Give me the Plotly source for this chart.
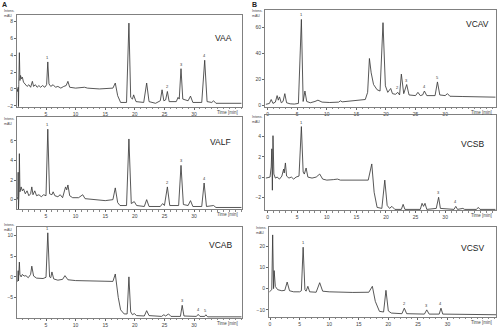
import plotly.graph_objects as go

# ---------------- data (time [min], intensity [mAU]) ----------------
vaa_t = [0.1, 0.2, 0.3, 0.35, 0.4, 0.5, 0.6, 0.7, 0.85, 1.0, 1.2, 1.5, 1.8, 2.1, 2.4, 2.7, 2.9, 3.2, 3.5, 3.8,
         4.1, 4.4, 4.8, 5.1, 5.3, 5.5, 5.8, 6.2, 6.6, 7.0, 7.5, 8.0, 8.4, 8.7, 9.0, 10, 11.5, 12, 14, 16.3,
         16.7, 17.1, 17.6, 18.6, 19.0, 19.3, 19.6, 19.8, 20.2, 21.5, 22.0, 22.4, 23.5, 24.3, 24.6, 24.9, 25.2,
         25.5, 25.8, 27.0, 27.3, 27.5, 27.8, 28.1, 29.0, 29.4, 29.8, 31.3, 31.8, 32.2, 33.0, 33.3, 33.7, 38]
vaa_v = [0.0, -0.3, 0.2, -2.1, 0.5, 4.3, 1.0, 1.6, 1.2, 1.4, 0.8, 0.6, 0.3, 0.5, 0.2, 0.9, 0.3, 0.5, 0.2, 0.4,
         0.2, 0.4, 0.2, 0.5, 3.2, 0.6, 0.3, 0.5, 0.2, 0.3, 0.1, 0.3, 0.4, 0.9, 0.2, 0.1, 0.2, 0.1, 0.0, 0.1,
         0.7, -0.8, -1.6, -1.6, 7.8, -1.0, -1.2, -0.7, -1.5, -1.6, 0.7, -1.5, -1.7, -1.4, -0.1, -1.4, -1.3,
         -0.3, -1.5, -1.5, -1.0, -1.2, 2.4, -1.2, -1.4, -0.85, -1.6, -1.6, 3.4, -1.5, -1.6, -1.4, -1.7, -1.7]
vaa_peaks = [(5.3, 3.2, "1"), (25.5, -0.3, "2"), (27.8, 2.4, "3"), (31.8, 3.4, "4")]

valf_t = [0.1, 0.25, 0.3, 0.35, 0.45, 0.5, 0.6, 0.8, 1.0, 1.2, 1.5, 1.8, 2.1, 2.4, 2.6, 2.8, 3.1, 3.4, 3.8, 4.2,
          4.6, 5.0, 5.3, 5.6, 6.0, 6.2, 6.5, 7.0, 7.4, 7.8, 8.3, 8.5, 8.7, 9.0, 9.5, 10.5, 11.2, 11.6, 13, 15,
          16.3, 16.7, 17.1, 17.5, 18.6, 19.0, 19.4, 19.9, 20.3, 21.6, 22.0, 22.4, 24.3, 24.7, 25.0, 25.5, 25.9,
          27.4, 27.8, 28.2, 29.0, 29.4, 29.8, 31.3, 31.7, 32.1, 33.3, 33.7, 38]
valf_v = [0.0, 0.3, 2.8, -1.0, 1.0, 4.7, 0.8, 1.3, 0.9, 1.1, 0.6, 0.9, 0.4, 0.6, 1.3, 0.5, 0.9, 0.4, 0.5, 0.3,
          0.5, 0.4, 7.2, 0.6, 0.5, 0.8, 0.4, 0.3, 0.5, 0.2, 1.3, 1.0, 1.5, 0.4, 0.2, 0.2, 0.5, 0.1, 0.0, -0.1,
          0.0, 1.2, -0.3, -0.6, -0.6, 6.2, -0.4, -0.2, -0.6, -0.7, 0.0, -0.7, -0.7, -0.4, -0.6, 1.3, -0.6,
          -0.6, 3.5, -0.5, -0.6, -0.1, -0.7, -0.7, 1.7, -0.7, -0.6, -0.8, -0.8]
valf_peaks = [(5.3, 7.2, "1"), (25.5, 1.3, "2"), (27.8, 3.5, "3"), (31.7, 1.7, "4")]

vcab_t = [0.1, 0.25, 0.3, 0.35, 0.5, 0.6, 0.8, 1.0, 1.3, 1.6, 2.0, 2.4, 2.6, 2.9, 3.4, 4.0, 4.5, 5.0, 5.3, 5.6,
          5.8, 6.0, 6.3, 7.0, 7.8, 8.2, 8.7, 10, 12, 14, 16.3, 16.7, 17.2, 17.6, 18.2, 18.7, 19.0, 19.3, 19.6,
          19.9, 20.3, 21.6, 22.0, 22.4, 24.5, 24.9, 25.2, 25.7, 26.1, 27.7, 28.0, 28.3, 30.4, 30.7, 31.0, 31.8,
          32.0, 32.3, 38]
vcab_v = [-1.2, -0.8, 1.5, -1.0, 3.6, 0.5, 0.0, 0.6, 0.2, 0.3, -0.2, 0.6, 2.6, 0.2, -0.3, -0.3, -0.4, -0.1, 10.7, 0.0,
          -0.2, 1.2, -0.5, -0.8, -0.6, 0.3, -0.7, -0.9, -1.0, -1.1, -1.1, 0.7, -5.0, -8.0, -9.0, -9.0, 0.0, -8.5, -9.2,
          -8.9, -9.4, -9.5, -8.2, -9.4, -9.6, -9.2, -9.5, -9.0, -9.6, -9.6, -6.9, -9.5, -9.6, -9.1, -9.6, -9.6,
          -9.2, -9.7, -9.7]
vcab_peaks = [(5.3, 10.7, "1"), (28.0, -6.9, "3"), (30.7, -9.1, "4"), (32.0, -9.2, "5")]

vcav_t = [-0.3, 0.3, 0.6, 0.9, 1.3, 1.6, 1.8, 2.0, 2.3, 2.6, 2.9, 3.2, 3.8, 4.5, 5.2, 5.7, 6.0, 6.3, 6.6, 7.2,
          8.0, 8.5, 9.2, 10.5, 12.0, 12.3, 12.6, 14, 15.5, 16.5, 16.9, 17.2, 17.5, 17.9, 18.5, 19.0, 19.5, 19.9,
          20.3, 20.8, 21.1, 21.6, 22.0, 22.3, 22.6, 23.0, 23.5, 23.9, 25.0, 25.4, 25.8, 26.2, 26.5, 26.9, 28.3,
          28.7, 29.1, 30.0, 30.4, 30.8, 33, 38.5]
vcav_v = [0.8, 1.5, 4.5, 1.5, 2.5, 7.5, 4, 6.5, 2.0, 3, 9.0, 2.0, 1.2, 1.0, 1.5, 66, 3, 11, 3, 2,
          3, 4, 2.5, 2.2, 2.5, 3.5, 2.7, 3.2, 3.8, 4.5, 10, 36, 25, 16, 12, 11, 63.5, 15,
          10, 13, 9, 8.5, 10, 8, 24, 9, 16, 8, 7.5, 10, 7.5, 8, 11, 7.5, 7.5,
          18, 8, 7.5, 9, 7, 6.8, 6.3]
vcav_peaks = [(5.7, 66, "1"), (22.0, 10, "2"), (23.5, 16, "3"), (26.5, 11, "4"), (28.7, 18, "5")]

vcsb_t = [-0.3, 0.4, 0.6, 0.7, 0.8, 0.9, 1.05, 1.3, 1.6, 2.0, 2.4, 2.7, 2.8, 3.0, 3.2, 3.6, 4.0, 4.4, 4.8, 5.3,
          5.7, 6.0, 6.2, 6.5, 6.8, 7.5, 8.2, 8.8, 9.3, 10, 11.1, 11.8, 12.3, 14, 17.0, 17.6, 18.0, 18.5, 19.3,
          19.8, 20.2, 20.6, 21.0, 21.5, 22.6, 22.9, 23.2, 25.8, 26.1, 26.35, 26.6, 26.9, 28.5, 28.9, 29.2, 31.5,
          31.8, 32.1, 33.0, 33.3, 35.3, 35.6, 35.9, 38.5]
vcsb_v = [-0.1, 0.0, 1.0, 2.8, -1.3, 4.1, 0.3, -0.1, 0.0, -0.2, 0.1, 0.8, 0.4, 1.4, 0.1, -0.1, 0.0, -0.2, 0.0, 0.1,
          5.0, 0.5, 0.3, 0.9, 0.0, -0.1, 0.0, 0.3, -0.2, -0.3, -0.25, -0.2, -0.3, -0.3, -0.3, 1.3, -1.5, -3.0, -3.1,
          -0.3, -2.8, -3.1, -2.9, -3.2, -3.2, -2.7, -3.2, -3.2, -2.6, -2.9, -2.6, -3.2, -3.1, -2.0, -3.1, -3.2,
          -2.9, -3.2, -3.1, -3.2, -3.2, -3.0, -3.2, -3.2]
vcsb_peaks = [(5.7, 5.0, "1"), (28.9, -2.0, "3"), (31.8, -2.9, "4")]

vcsv_t = [-0.1, 0.3, 0.45, 0.6, 0.7, 0.9, 1.3, 2.0, 2.5, 2.9, 3.3, 4.0, 5.0, 5.3, 5.6, 5.9, 6.1, 6.4, 6.7, 7.8,
          8.4, 8.9, 10, 12, 14, 16.7, 17.3, 17.8, 18.5, 19.2, 19.6, 20.0, 20.5, 22.3, 22.7, 23.1, 26.1, 26.5,
          26.9, 28.6, 28.9, 29.2, 38.2]
vcsv_v = [-1.5, -0.5, 25.3, 0, 8.5, 1, -0.5, -1.0, -0.8, 3.1, -1.0, -1.5, -1.5, -1.0, 19.5, -0.5, -1.2, 1.1, -1.5, -1.7,
          2.8, -1.2, -1.5, -1.7, -1.8, -1.7, 1.1, -6, -10.7, -11, -0.8, -10.5, -11.5, -11.8, -9.2, -11.8, -12, -10.0,
          -12, -12, -9.2, -12, -12.3]
vcsv_peaks = [(5.6, 19.5, "1"), (22.7, -9.2, "2"), (26.5, -10.0, "3"), (28.9, -9.2, "4")]

x_ticks = [0, 5, 10, 15, 20, 25, 30]

# ---------------- layout geometry (pixels) ----------------
W, H = 500, 328
panels = [
    dict(name="VAA", t=vaa_t, v=vaa_v, pk=vaa_peaks, box=(17, 242, 15, 109), xr=[0.1, 38.1], yr=[-2.1, 8.8],
         yt=[-2, 0, 2, 4, 6, 8], lab=(223, 39)),
    dict(name="VALF", t=valf_t, v=valf_v, pk=valf_peaks, box=(17, 242, 120, 214), xr=[0.1, 38.1], yr=[-1.0, 8.4],
         yt=[0, 2, 4, 6], lab=(220, 145)),
    dict(name="VCAB", t=vcab_t, v=vcab_v, pk=vcab_peaks, box=(17, 242, 232, 325), xr=[0.1, 38.1], yr=[-10, 12.1],
         yt=[-5, 0, 5, 10], lab=(220, 250)),
    dict(name="VCAV", t=vcav_t, v=vcav_v, pk=vcav_peaks, box=(265, 496, 10, 109), xr=[-0.45, 38.6], yr=[-1, 73.4],
         yt=[0, 20, 40, 60], lab=(477, 25)),
    dict(name="VCSB", t=vcsb_t, v=vcsb_v, pk=vcsb_peaks, box=(265, 496, 118, 215), xr=[-0.45, 38.6], yr=[-3.3, 6.1],
         yt=[-2, 0, 2, 4], lab=(472, 147)),
    dict(name="VCSV", t=vcsv_t, v=vcsv_v, pk=vcsv_peaks, box=(269, 496, 232, 324), xr=[-0.17, 38.2], yr=[-13.4, 29],
         yt=[-10, 0, 10, 20], lab=(472, 253)),
]

FONT = "Arial, Liberation Sans, sans-serif"
fig = go.Figure()
layout = dict(width=W, height=H, margin=dict(l=0, r=0, t=0, b=0), paper_bgcolor="white",
              plot_bgcolor="white", showlegend=False, font=dict(family=FONT, color="#333"))
annotations = []

for i, p in enumerate(panels, start=1):
    x0, x1, y0, y1 = p["box"]
    xk = "xaxis" if i == 1 else f"xaxis{i}"
    yk = "yaxis" if i == 1 else f"yaxis{i}"
    xref = "x" if i == 1 else f"x{i}"
    yref = "y" if i == 1 else f"y{i}"
    fig.add_trace(go.Scatter(x=p["t"], y=p["v"], mode="lines", xaxis=xref, yaxis=yref,
                             line=dict(color="#3a3a3a", width=0.85), hoverinfo="skip"))
    layout[xk] = dict(domain=[x0 / W, x1 / W], range=p["xr"], anchor=yref, showgrid=False, zeroline=False,
                      showline=True, linecolor="#808080", linewidth=0.8, mirror=True,
                      ticks="outside", ticklen=2, tickwidth=0.6, tickcolor="#666",
                      tickvals=x_ticks, tickfont=dict(size=5, color="#444"),
                      minor=dict(dtick=1, ticks="outside", ticklen=1.2, tickwidth=0.5, tickcolor="#888"))
    layout[yk] = dict(domain=[1 - y1 / H, 1 - y0 / H], range=p["yr"], anchor=xref, showgrid=False,
                      zeroline=False, showline=True, linecolor="#808080", linewidth=0.8, mirror=True,
                      ticks="outside", ticklen=2, tickwidth=0.6, tickcolor="#666",
                      tickvals=p["yt"], tickfont=dict(size=5, color="#444"))
    # sample name
    annotations.append(dict(x=p["lab"][0] / W, y=1 - p["lab"][1] / H, xref="paper", yref="paper",
                            text=p["name"], showarrow=False, font=dict(size=8.5, color="#222"),
                            xanchor="center", yanchor="middle"))
    # axis caption placed just above the topmost y tick label
    ymin, ymax = p["yr"]
    top_tick_px = y0 + (ymax - max(p["yt"])) / (ymax - ymin) * (y1 - y0)
    cap_bottom = min(top_tick_px - 2.8, y0 + 9.5)
    annotations.append(dict(x=(x0 - 1) / W, y=1 - cap_bottom / H, xref="paper", yref="paper",
                            text="Intens.<br>mAU", showarrow=False, font=dict(size=3.5, color="#444"),
                            xanchor="right", yanchor="bottom", align="left", borderpad=0))
    annotations.append(dict(x=(x1 - 2) / W, y=1 - y1 / H, xref="paper", yref="paper",
                            text="Time [min]", showarrow=False, font=dict(size=4.5, color="#444"),
                            xanchor="right", yanchor="top", yshift=-1))
    # peak numbers
    for (pt, pv, lbl) in p["pk"]:
        annotations.append(dict(x=pt, y=pv, xref=xref, yref=yref, text=lbl, showarrow=False,
                                font=dict(size=4, color="#333"), yanchor="bottom", yshift=0))

annotations.append(dict(x=1 / W, y=1.0, xref="paper", yref="paper", text="<b>A</b>", showarrow=False,
                        font=dict(size=7, color="#222"), xanchor="left", yanchor="top", borderpad=0))
annotations.append(dict(x=251 / W, y=1.0, xref="paper", yref="paper", text="<b>B</b>", showarrow=False,
                        font=dict(size=7, color="#222"), xanchor="left", yanchor="top", borderpad=0))
layout["annotations"] = annotations
fig.update_layout(**layout)
fig.write_html("out.html")
